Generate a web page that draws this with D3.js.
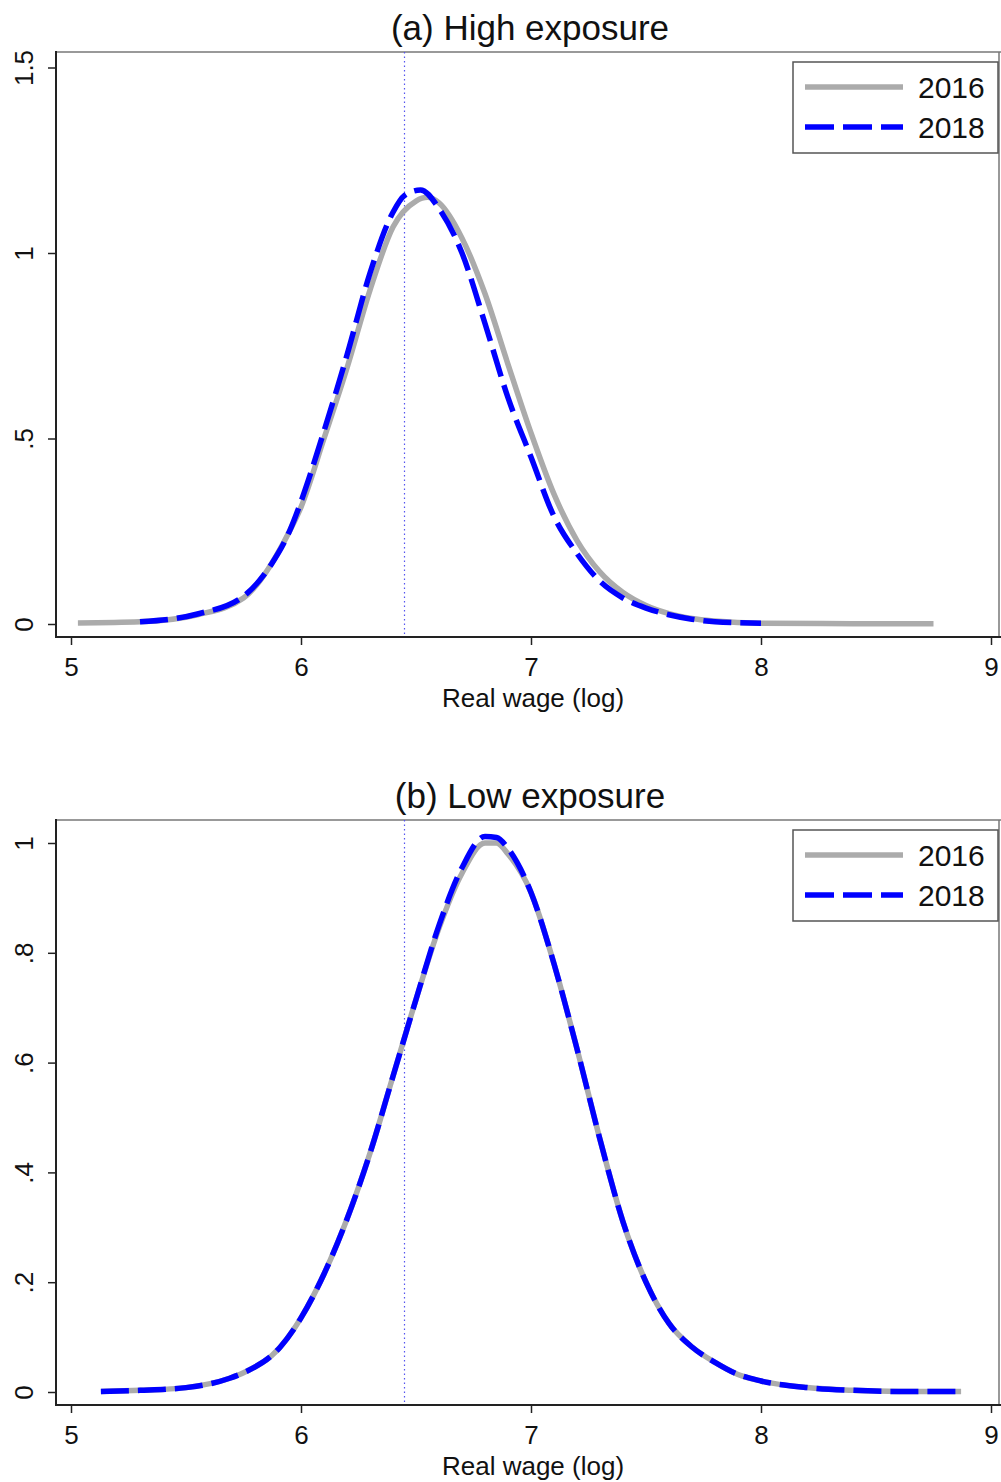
<!DOCTYPE html>
<html>
<head>
<meta charset="utf-8">
<script src="https://cdn.jsdelivr.net/npm/d3@7"></script>
<style>
  body { margin: 0; background: #fff; }
  svg { font-family: "Liberation Sans", Arial, sans-serif; }
</style>
</head>
<body>
<div id="chart"></div>
<script>
// kernel density estimates
const highX2016 = [5.03, 5.3, 5.55, 5.75, 5.95, 6.0, 6.1, 6.2, 6.3, 6.4, 6.5, 6.55, 6.6, 6.7, 6.8, 6.9, 7.0, 7.1, 7.2, 7.3, 7.4, 7.5, 7.6, 7.7, 7.8, 8.0, 8.4, 8.75];
const highY2016 = [0.003, 0.006, 0.025, 0.07, 0.25, 0.315, 0.5, 0.69, 0.9, 1.07, 1.14, 1.15, 1.135, 1.04, 0.89, 0.7, 0.515, 0.35, 0.225, 0.14, 0.085, 0.05, 0.028, 0.015, 0.008, 0.002, 0.001, 0.001];
const highX2018 = [5.3, 5.55, 5.75, 5.87, 5.95, 6.0, 6.1, 6.2, 6.3, 6.4, 6.45, 6.52, 6.6, 6.7, 6.8, 6.9, 7.0, 7.1, 7.2, 7.3, 7.4, 7.5, 7.6, 7.7, 7.8, 8.0];
const highY2018 = [0.006, 0.027, 0.075, 0.16, 0.25, 0.33, 0.52, 0.725, 0.946, 1.11, 1.155, 1.17, 1.12, 1.0, 0.81, 0.61, 0.45, 0.29, 0.19, 0.115, 0.07, 0.043, 0.025, 0.013, 0.006, 0.002];

const lowX2016 = [5.13, 5.3, 5.5, 5.69, 5.75, 5.91, 6.0, 6.1, 6.2, 6.3, 6.4, 6.5, 6.6, 6.7, 6.8, 6.85, 6.9, 7.0, 7.1, 7.2, 7.3, 7.4, 7.5, 7.6, 7.7, 7.8, 7.9, 8.0, 8.2, 8.4, 8.6, 8.87];
const lowY2016 = [0.001, 0.003, 0.008, 0.025, 0.035, 0.082, 0.135, 0.215, 0.315, 0.435, 0.575, 0.715, 0.845, 0.945, 1.0, 1.0, 0.98, 0.91, 0.78, 0.625, 0.46, 0.31, 0.2, 0.125, 0.082, 0.054, 0.032, 0.02, 0.008, 0.003, 0.001, 0.001];
const lowX2018 = [5.13, 5.3, 5.5, 5.69, 5.75, 5.91, 6.0, 6.1, 6.2, 6.3, 6.4, 6.5, 6.6, 6.7, 6.8, 6.85, 6.9, 7.0, 7.1, 7.2, 7.3, 7.4, 7.5, 7.6, 7.7, 7.8, 7.9, 8.0, 8.2, 8.4, 8.6, 8.87];
const lowY2018 = [0.001, 0.003, 0.008, 0.025, 0.035, 0.082, 0.135, 0.215, 0.315, 0.435, 0.575, 0.715, 0.85, 0.955, 1.012, 1.01, 0.99, 0.91, 0.78, 0.625, 0.46, 0.31, 0.2, 0.125, 0.082, 0.054, 0.032, 0.02, 0.008, 0.003, 0.001, 0.001];

const xTicks = [5, 6, 7, 8, 9];
const highYTicks = [0, 0.5, 1, 1.5];
const lowYTicks = [0, 0.2, 0.4, 0.6, 0.8, 1];
const cutoff = 6.45;  // dotted reference line
const seriesNames = ["2016", "2018"];

const width = 1001, height = 1482;
const svg = d3.select("#chart").append("svg")
  .attr("width", width)
  .attr("height", height);

const fmtY = d => d === 0 ? "0" : (d < 1 ? String(d).replace(/^0/, "") : String(d));

function drawPanel(opt) {
  const g = svg.append("g");
  const x = d3.scaleLinear().domain([5, 9]).range([71, 991]);
  const y = d3.scaleLinear().domain(opt.yDomain).range(opt.yRange);

  // frame
  g.append("line").attr("x1", opt.left).attr("x2", 1001).attr("y1", opt.top).attr("y2", opt.top)
    .attr("stroke", "#777").attr("stroke-width", 1.5);
  g.append("line").attr("x1", 999).attr("x2", 999).attr("y1", opt.top).attr("y2", opt.bottom)
    .attr("stroke", "#777").attr("stroke-width", 1.5);

  // title
  g.append("text").attr("x", 530).attr("y", opt.top - 12)
    .attr("text-anchor", "middle").attr("font-size", 35).attr("fill", "#111")
    .text(opt.title);

  // dotted reference line
  g.append("line")
    .attr("x1", x(cutoff)).attr("x2", x(cutoff))
    .attr("y1", opt.top).attr("y2", opt.bottom)
    .attr("stroke", "#5555ee").attr("stroke-width", 1.2)
    .attr("stroke-dasharray", "1.5,3");

  const line = d3.line().curve(d3.curveMonotoneX).x(d => x(d[0])).y(d => y(d[1]));

  g.append("path")
    .datum(d3.zip(opt.x16, opt.y16))
    .attr("d", line)
    .attr("fill", "none").attr("stroke", "#ababab").attr("stroke-width", 5.5);

  g.append("path")
    .datum(d3.zip(opt.x18, opt.y18))
    .attr("d", line)
    .attr("fill", "none").attr("stroke", "#0000ff").attr("stroke-width", 5.5)
    .attr("stroke-dasharray", "28,9");

  // y axis
  const yAxis = g.append("g")
    .attr("transform", `translate(${opt.left},0)`)
    .call(d3.axisLeft(y).tickValues(opt.yTicks).tickFormat(fmtY).tickSize(8).tickSizeOuter(0));
  yAxis.select(".domain").remove();
  yAxis.selectAll(".tick line").attr("stroke", "#222").attr("stroke-width", 1.5);
  yAxis.selectAll(".tick text")
    .attr("transform", "rotate(-90)")
    .attr("x", 0).attr("y", -23).attr("dy", 0)
    .attr("text-anchor", "middle")
    .attr("font-size", 26).attr("fill", "#111")
    .style("font-family", "'Liberation Sans', Arial, sans-serif");

  g.append("line").attr("x1", opt.left).attr("x2", opt.left).attr("y1", opt.top - 1).attr("y2", opt.bottom + 1)
    .attr("stroke", "#222").attr("stroke-width", 2);

  // x axis
  const xAxis = g.append("g")
    .attr("transform", `translate(0,${opt.bottom})`)
    .call(d3.axisBottom(x).tickValues(xTicks).tickFormat(d3.format("d")).tickSize(8).tickPadding(13).tickSizeOuter(0));
  xAxis.select(".domain").remove();
  xAxis.selectAll(".tick line").attr("stroke", "#222").attr("stroke-width", 1.5);
  xAxis.selectAll(".tick text")
    .attr("font-size", 26).attr("fill", "#111")
    .style("font-family", "'Liberation Sans', Arial, sans-serif");

  g.append("text").attr("x", 533).attr("y", opt.bottom + 70)
    .attr("text-anchor", "middle").attr("font-size", 26).attr("fill", "#111")
    .text("Real wage (log)");

  g.append("line").attr("x1", opt.left - 1).attr("x2", 1001).attr("y1", opt.bottom).attr("y2", opt.bottom)
    .attr("stroke", "#222").attr("stroke-width", 2);

  // legend
  const lg = g.append("g").attr("transform", `translate(793,${opt.top + 10})`);
  lg.append("rect").attr("x", 0).attr("y", 0).attr("width", 205).attr("height", 91)
    .attr("fill", "#fff").attr("stroke", "#555").attr("stroke-width", 1.5);
  const styles = [
    { stroke: "#ababab", dash: null },
    { stroke: "#0000ff", dash: "29,9" }
  ];
  seriesNames.forEach((name, i) => {
    const yy = 25 + i * 40;
    lg.append("line").attr("x1", 12).attr("x2", 110).attr("y1", yy).attr("y2", yy)
      .attr("stroke", styles[i].stroke).attr("stroke-width", 5.5)
      .attr("stroke-dasharray", styles[i].dash);
    lg.append("text").attr("x", 125).attr("y", yy + 11)
      .attr("font-size", 30).attr("fill", "#111").text(name);
  });
}

drawPanel({
  title: "(a) High exposure",
  top: 52, bottom: 637, left: 56,
  yDomain: [0, 1.5], yRange: [624, 67.5], yTicks: highYTicks,
  x16: highX2016, y16: highY2016, x18: highX2018, y18: highY2018
});

drawPanel({
  title: "(b) Low exposure",
  top: 820, bottom: 1405, left: 56,
  yDomain: [0, 1], yRange: [1392, 843], yTicks: lowYTicks,
  x16: lowX2016, y16: lowY2016, x18: lowX2018, y18: lowY2018
});
</script>
</body>
</html>
